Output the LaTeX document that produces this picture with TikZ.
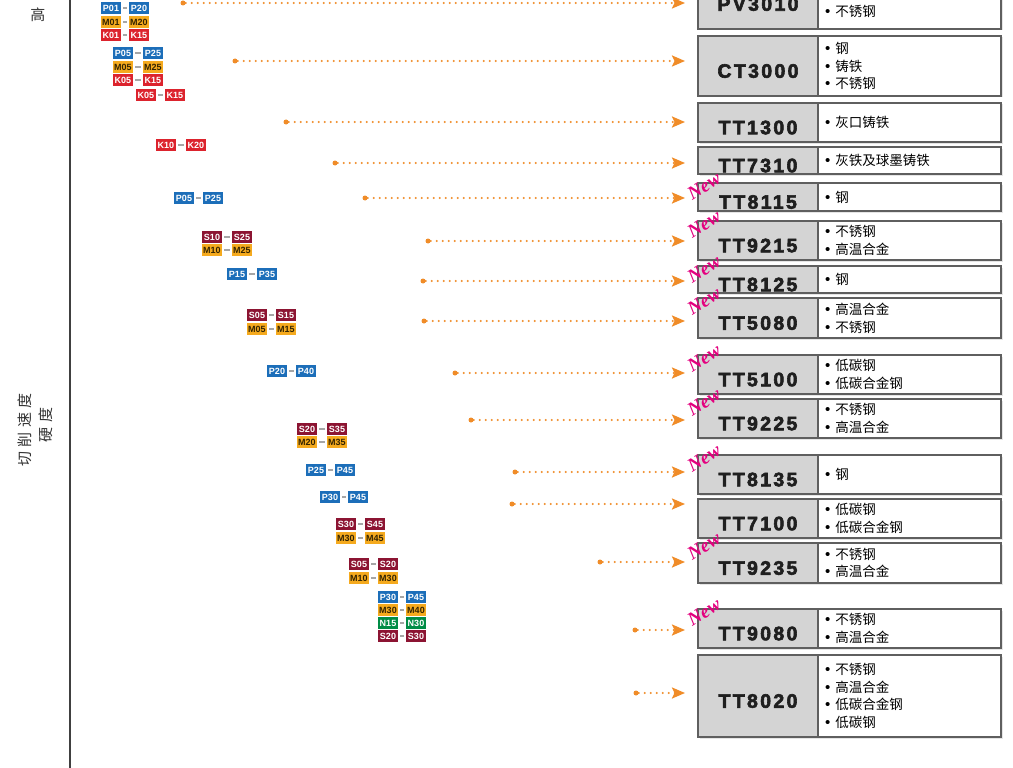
\documentclass[tikz,border=0pt]{standalone}
\usepackage{fontspec}
\setmainfont{Noto Sans CJK SC}
\newfontfamily\codefont[LetterSpace=12,FakeBold=3]{Liberation Sans Bold}
\newfontfamily\badgefont{Liberation Sans}
\newfontfamily\tagfont{Liberation Serif}
\usetikzlibrary{positioning,arrows.meta,shadows}
\definecolor{isoP}{RGB}{28,110,185}
\definecolor{isoM}{RGB}{245,170,30}
\definecolor{isoK}{RGB}{220,35,45}
\definecolor{isoS}{RGB}{140,20,50}
\definecolor{isoN}{RGB}{0,140,70}
\definecolor{mtext}{RGB}{50,35,0}
\definecolor{boxgray}{RGB}{95,95,95}
\definecolor{cellgray}{RGB}{212,212,212}
\definecolor{dotorange}{RGB}{240,140,40}
\definecolor{newpink}{RGB}{228,0,127}
\newcommand\blt{{\badgefont\fontsize{15}{15}\selectfont•}\hspace{5pt}}

\begin{document}
\begin{tikzpicture}[x=1pt,y=-1pt,
badge/.style={
    rectangle,
    inner sep=0,
    minimum width=20pt,
    minimum height=11.5pt,
    font=\badgefont\bfseries\fontsize{9}{9}\selectfont
    },
pairdash/.style={draw=gray!70, line width=1.4pt, shorten <=2pt, shorten >=2pt},
codecell/.style={
    rectangle,
    draw=boxgray,
    fill=cellgray,
    line width=1.6pt,
    minimum width=120pt,
    inner sep=0,
    outer sep=0,
    text height=23.5pt,
    text depth=0pt,
    text=black!88,
    font=\codefont\fontsize{19.5}{19.5}\selectfont,
    drop shadow={opacity=0.2,shadow xshift=1.5pt,shadow yshift=-1.5pt}
    },
itemcell/.style={
    rectangle,
    draw=boxgray,
    fill=white,
    line width=1.6pt,
    inner xsep=7pt,
    inner ysep=0,
    outer sep=0,
    text width=169pt,
    align=left,
    font=\fontsize{13.5}{17.7}\selectfont,
    drop shadow={opacity=0.2,shadow xshift=1.5pt,shadow yshift=-1.5pt}
    },
arrowdot/.style={circle, fill=dotorange, inner sep=0, minimum size=5pt},
dotarrow/.style={
    draw=dotorange,
    line width=2.2pt,
    line cap=round,
    dash pattern=on 0pt off 6pt,
    -{Stealth[length=13pt,width=11pt,inset=2.5pt]},
    shorten >=13pt},
newtag/.style={text=newpink, rotate=32, inner sep=0, font=\tagfont\bfseries\itshape\fontsize{19}{19}\selectfont},
axislabel/.style={text=black!80, font=\fontsize{15}{15}\selectfont}
]
\useasboundingbox (0,0) rectangle (1013,768);
\fill[white] (0,0) rectangle (1013,768);

% axis and its labels
\coordinate (axtop) at (70,0);
\coordinate (axbot) at (70,768);
\draw[black!75,line width=2.6pt] (axtop) -- (axbot);
\node(high) [axislabel] at (38,15) {高};
\node(speed) [axislabel,rotate=90] at (25,430) {\addfontfeature{LetterSpace=28}切削速度};
\node(hard) [axislabel,rotate=90] at (46,425) {\addfontfeature{LetterSpace=28}硬度};

% ISO grade ranges
\foreach \la/\lb/\cl/\tc/\xa/\xb/\yy [count=\n] in {
    P01/P20/isoP/white/111/139/8, M01/M20/isoM/mtext/111/139/22, K01/K15/isoK/white/111/139/35,
    P05/P25/isoP/white/123/153/53, M05/M25/isoM/mtext/123/153/67, K05/K15/isoK/white/123/153/80,
    K05/K15/isoK/white/146/175/95,
    K10/K20/isoK/white/166/196/145,
    P05/P25/isoP/white/184/213/198,
    S10/S25/isoS/white/212/242/237, M10/M25/isoM/mtext/212/242/250,
    P15/P35/isoP/white/237/267/274,
    S05/S15/isoS/white/257/286/315, M05/M15/isoM/mtext/257/286/329,
    P20/P40/isoP/white/277/306/371,
    S20/S35/isoS/white/307/337/429, M20/M35/isoM/mtext/307/337/442,
    P25/P45/isoP/white/316/345/470,
    P30/P45/isoP/white/330/358/497,
    S30/S45/isoS/white/346/375/524, M30/M45/isoM/mtext/346/375/538,
    S05/S20/isoS/white/359/388/564, M10/M30/isoM/mtext/359/388/578,
    P30/P45/isoP/white/388/416/597, M30/M40/isoM/mtext/388/416/610,
    N15/N30/isoN/white/388/416/623, S20/S30/isoS/white/388/416/636}
{
\node(bl\n) [badge,fill=\cl,text=\tc] at (\xa,\yy) {\la};
\node(br\n) [badge,fill=\cl,text=\tc] at (\xb,\yy) {\lb};
\draw[pairdash] (bl\n) -- (br\n);
}

% grades with their materials
\foreach \code/\ya/\yb/\ay/\ax/\items [count=\i] in {
    PV3010/-31/29/3/183/{\mbox{}\\\blt 铸铁\\\blt 不锈钢},
    CT3000/36/96/61/235/{\blt 钢\\\blt 铸铁\\\blt 不锈钢},
    TT1300/103/142/122/286/{\blt 灰口铸铁},
    TT7310/147/174/163/335/{\blt 灰铁及球墨铸铁},
    TT8115/183/211/198/365/{\blt 钢},
    TT9215/221/260/241/428/{\blt 不锈钢\\\blt 高温合金},
    TT8125/266/293/281/423/{\blt 钢},
    TT5080/298/338/321/424/{\blt 高温合金\\\blt 不锈钢},
    TT5100/355/394/373/455/{\blt 低碳钢\\\blt 低碳合金钢},
    TT9225/399/438/420/471/{\blt 不锈钢\\\blt 高温合金},
    TT8135/455/494/472/515/{\blt 钢},
    TT7100/499/538/504/512/{\blt 低碳钢\\\blt 低碳合金钢},
    TT9235/543/583/562/600/{\blt 不锈钢\\\blt 高温合金},
    TT9080/609/648/630/635/{\blt 不锈钢\\\blt 高温合金},
    TT8020/655/737/693/636/{\blt 不锈钢\\\blt 高温合金\\\blt 低碳合金钢\\\blt 低碳钢}}
{
\pgfmathsetmacro\hh{\yb-\ya}
\pgfmathsetmacro\ym{(\ya+\yb)/2}
\node(code\i) [codecell,minimum height=\hh pt] at (758,\ym) {\code};
\node(item\i) [itemcell,minimum height=\hh pt,right=0pt of code\i] {\items};
\node(dot\i) [arrowdot] at (\ax,\ay) {};
\draw[dotarrow] (dot\i) -- (dot\i -| code\i.west);
}

% new grades
\foreach \k in {5,6,7,8,9,10,11,13,14}
    \node(new\k) [newtag] at ([xshift=6pt,yshift=-3pt]code\k.north west) {New};
\end{tikzpicture}
\end{document}
